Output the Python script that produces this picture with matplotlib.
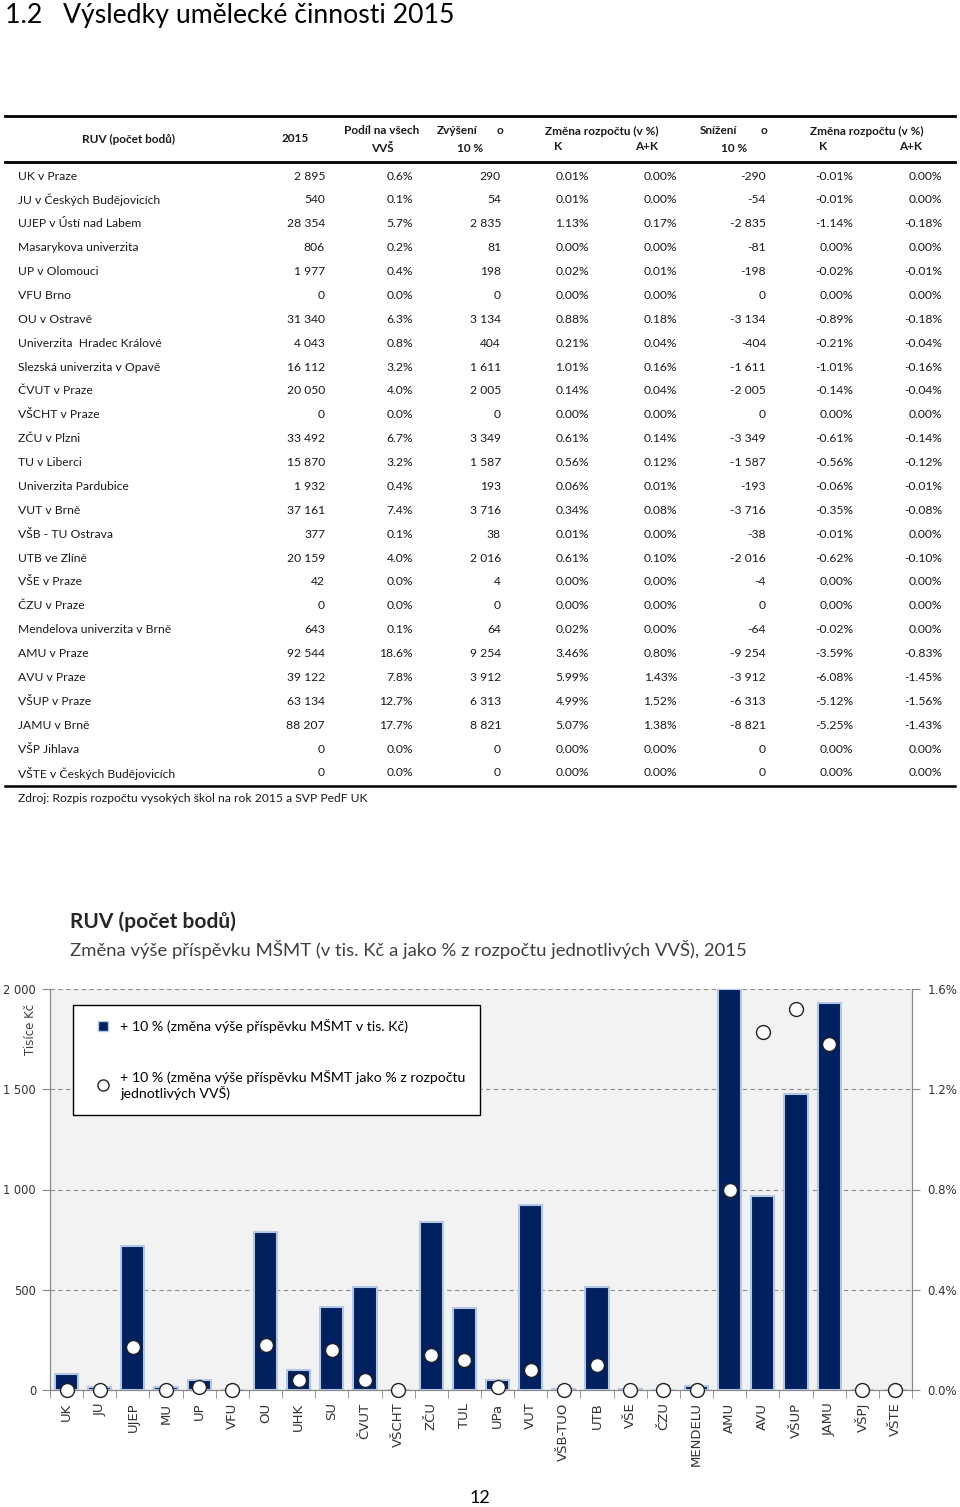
import matplotlib
matplotlib.use("Agg")
import matplotlib.pyplot as plt
from matplotlib.lines import Line2D
from matplotlib.ticker import FuncFormatter, FixedLocator

# table data (RUV points, 2015)
names = ["UK v Praze", "JU v Českých Budějovicích", "UJEP v Ústí nad Labem",
         "Masarykova univerzita", "UP v Olomouci", "VFU Brno", "OU v Ostravě",
         "Univerzita  Hradec Králové", "Slezská univerzita v Opavě", "ČVUT v Praze",
         "VŠCHT v Praze", "ZČU v Plzni", "TU v Liberci", "Univerzita Pardubice",
         "VUT v Brně", "VŠB - TU Ostrava", "UTB ve Zlíně", "VŠE v Praze",
         "ČZU v Praze", "Mendelova univerzita v Brně", "AMU v Praze", "AVU v Praze",
         "VŠUP v Praze", "JAMU v Brně", "VŠP Jihlava", "VŠTE v Českých Budějovicích"]
points = [2895, 540, 28354, 806, 1977, 0, 31340, 4043, 16112, 20050, 0, 33492, 15870,
          1932, 37161, 377, 20159, 42, 0, 643, 92544, 39122, 63134, 88207, 0, 0]
share = [0.6, 0.1, 5.7, 0.2, 0.4, 0.0, 6.3, 0.8, 3.2, 4.0, 0.0, 6.7, 3.2,
         0.4, 7.4, 0.1, 4.0, 0.0, 0.0, 0.1, 18.6, 7.8, 12.7, 17.7, 0.0, 0.0]
inc = [290, 54, 2835, 81, 198, 0, 3134, 404, 1611, 2005, 0, 3349, 1587,
       193, 3716, 38, 2016, 4, 0, 64, 9254, 3912, 6313, 8821, 0, 0]
inc_k = [0.01, 0.01, 1.13, 0.00, 0.02, 0.00, 0.88, 0.21, 1.01, 0.14, 0.00, 0.61, 0.56,
         0.06, 0.34, 0.01, 0.61, 0.00, 0.00, 0.02, 3.46, 5.99, 4.99, 5.07, 0.00, 0.00]
inc_ak = [0.00, 0.00, 0.17, 0.00, 0.01, 0.00, 0.18, 0.04, 0.16, 0.04, 0.00, 0.14, 0.12,
          0.01, 0.08, 0.00, 0.10, 0.00, 0.00, 0.00, 0.80, 1.43, 1.52, 1.38, 0.00, 0.00]
dec = [-290, -54, -2835, -81, -198, 0, -3134, -404, -1611, -2005, 0, -3349, -1587,
       -193, -3716, -38, -2016, -4, 0, -64, -9254, -3912, -6313, -8821, 0, 0]
dec_k = [-0.01, -0.01, -1.14, 0.00, -0.02, 0.00, -0.89, -0.21, -1.01, -0.14, 0.00, -0.61, -0.56,
         -0.06, -0.35, -0.01, -0.62, 0.00, 0.00, -0.02, -3.59, -6.08, -5.12, -5.25, 0.00, 0.00]
dec_ak = [0.00, 0.00, -0.18, 0.00, -0.01, 0.00, -0.18, -0.04, -0.16, -0.04, 0.00, -0.14, -0.12,
          -0.01, -0.08, 0.00, -0.10, 0.00, 0.00, 0.00, -0.83, -1.45, -1.56, -1.43, 0.00, 0.00]

# chart data
short = ["UK", "JU", "UJEP", "MU", "UP", "VFU", "OU", "UHK", "SU", "ČVUT", "VŠCHT", "ZČU",
         "TUL", "UPa", "VUT", "VŠB-TUO", "UTB", "VŠE", "ČZU", "MENDELU", "AMU", "AVU",
         "VŠUP", "JAMU", "VŠPJ", "VŠTE"]
bar_tis_kc = [78, 15, 717, 16, 50, 0, 787, 101, 416, 516, 0, 837, 407,
              50, 925, 5, 516, 3, 0, 21, 2000, 966, 1474, 1932, 0, 0]

W, H = 960, 1507
NAVY = "#002060"
TXT = "#1a1a1a"
FONT = "Lato"


def fx(x):
    return x / W


def fy(y):
    return 1 - y / H


def num(v):
    s = "{:,}".format(abs(v)).replace(",", " ")
    return ("-" if v < 0 else "") + s


def pct(v, d=2):
    return "{:.{}f}%".format(v, d)


fig = plt.figure(figsize=(W / 100, H / 100), dpi=100)

fig.text(fx(5), fy(16), "1.2   Výsledky umělecké činnosti 2015", fontsize=19.2,
         family=FONT, va="center", ha="left", color="black")

# table rules
for y, lw in [(116, 2.0), (162, 2.0), (786, 1.8)]:
    fig.add_artist(Line2D([fx(5), fx(955)], [fy(y), fy(y)], color="black", lw=lw))

hdr = dict(fontsize=8.5, family=FONT, fontweight="bold", va="center", color=TXT)
fig.text(fx(128), fy(139), "RUV (počet bodů)", ha="center", **hdr)
fig.text(fx(295), fy(139), "2015", ha="center", **hdr)
fig.text(fx(382), fy(130), "Podíl na všech", ha="center", **hdr)
fig.text(fx(382), fy(148), "VVŠ", ha="center", **hdr)
for word, xl, xo, xc in [("Zvýšení", 437, 500, 470), ("Snížení", 700, 764, 734)]:
    fig.text(fx(xl), fy(130), word, ha="left", **hdr)
    fig.text(fx(xo), fy(130), "o", ha="center", **hdr)
    fig.text(fx(xc), fy(148), "10 %", ha="center", **hdr)
for xc, xk, xak in [(602, 558, 647), (867, 823, 911)]:
    fig.text(fx(xc), fy(131), "Změna rozpočtu (v %)", ha="center", **hdr)
    fig.text(fx(xk), fy(147), "K", ha="center", **hdr)
    fig.text(fx(xak), fy(147), "A+K", ha="center", **hdr)

cell = dict(fontsize=8.7, family=FONT, va="center", color=TXT)
col_x = [325, 413, 501, 589, 677, 766, 853, 942]
for i, name in enumerate(names):
    y = fy(176 + i * 23.88)
    fig.text(fx(18), y, name, ha="left", **cell)
    vals = [num(points[i]), pct(share[i], 1), num(inc[i]), pct(inc_k[i]), pct(inc_ak[i]),
            num(dec[i]), pct(dec_k[i]), pct(dec_ak[i])]
    for x, v in zip(col_x, vals):
        fig.text(fx(x), y, v, ha="right", **cell)

fig.text(fx(18), fy(798), "Zdroj: Rozpis rozpočtu vysokých škol na rok 2015 a SVP PedF UK",
         ha="left", **cell)

# chart
fig.text(fx(70), fy(922), "RUV (počet bodů)", fontsize=15, fontweight="bold",
         family=FONT, color="#262626", va="center")
fig.text(fx(70), fy(949), "Změna výše příspěvku MŠMT (v tis. Kč a jako % z rozpočtu jednotlivých VVŠ), 2015",
         fontsize=13.3, family=FONT, color="#404040", va="center")

ax = fig.add_axes([fx(50), fy(1390), (912 - 50) / W, (1390 - 989) / H])
ax.set_facecolor("#f2f2f2")
xs = list(range(len(short)))
ax.bar(xs, bar_tis_kc, width=0.7, color=NAVY, edgecolor="#b4c7e7", linewidth=1.5, zorder=3)
ax.set_xlim(-0.5, len(short) - 0.5)
ax.set_ylim(0, 2000)
ax.set_yticks([0, 500, 1000, 1500, 2000])
ax.yaxis.set_major_formatter(FuncFormatter(lambda v, p: num(int(v))))
ax.grid(axis="y", color="#8c8c8c", linestyle=(0, (4, 3)), linewidth=0.8, zorder=1)
ax.set_axisbelow(True)
ax.set_xticks(xs)
ax.set_xticklabels(short, rotation=90, fontsize=9.5, family="DejaVu Sans", color="#333333")
ax.xaxis.set_minor_locator(FixedLocator([i - 0.5 for i in range(len(short) + 1)]))
ax.tick_params(axis="x", which="major", length=0, pad=9)
ax.tick_params(axis="x", which="minor", length=6, color="#888888")
ax.tick_params(axis="y", length=6, color="#888888", labelsize=8.3, labelcolor="#333333", pad=4)
for s in ["left", "right", "bottom"]:
    ax.spines[s].set_color("#888888")
ax.spines["top"].set_visible(False)
ax.text(-0.023, 0.9, "Tisíce Kč", transform=ax.transAxes, rotation=90, ha="center",
        va="center", fontsize=8.5, family="DejaVu Sans", color="#404040")

ax2 = ax.twinx()
ax2.plot(xs, [v / 100 for v in inc_ak], linestyle="none", marker="o", markersize=10,
         markerfacecolor="white", markeredgecolor="#222222", markeredgewidth=1.0,
         clip_on=False, zorder=5)
ax2.set_ylim(0, 0.016)
ax2.set_yticks([0, 0.004, 0.008, 0.012, 0.016])
ax2.yaxis.set_major_formatter(FuncFormatter(lambda v, p: "{:.1f}%".format(v * 100)))
ax2.tick_params(axis="y", length=6, color="#888888", labelsize=8.5, labelcolor="#333333", pad=5)
for s in ["left", "right", "bottom"]:
    ax2.spines[s].set_color("#888888")
ax2.spines["top"].set_visible(False)

handles = [
    Line2D([], [], linestyle="none", marker="s", markersize=7, markerfacecolor=NAVY,
           markeredgecolor="#b4c7e7"),
    Line2D([], [], linestyle="none", marker="o", markersize=8, markerfacecolor="white",
           markeredgecolor="#222222"),
]
labels = ["+ 10 % (změna výše příspěvku MŠMT v tis. Kč)",
          "+ 10 % (změna výše příspěvku MŠMT jako % z rozpočtu\njednotlivých VVŠ)"]
leg = ax2.legend(handles, labels, loc="upper left", bbox_to_anchor=(0.0267, 0.96),
                 prop={"family": FONT, "size": 10.2}, frameon=True, fancybox=False,
                 framealpha=1, edgecolor="black", borderpad=1.0, labelspacing=2.6,
                 handlelength=2.2, handletextpad=0.15, borderaxespad=0)
leg.get_frame().set_linewidth(1.0)
leg.set_zorder(10)

fig.text(fx(480), fy(1498), "12", fontsize=13, family=FONT, ha="center", va="center", color="black")

fig.savefig("out.png", dpi=100)
